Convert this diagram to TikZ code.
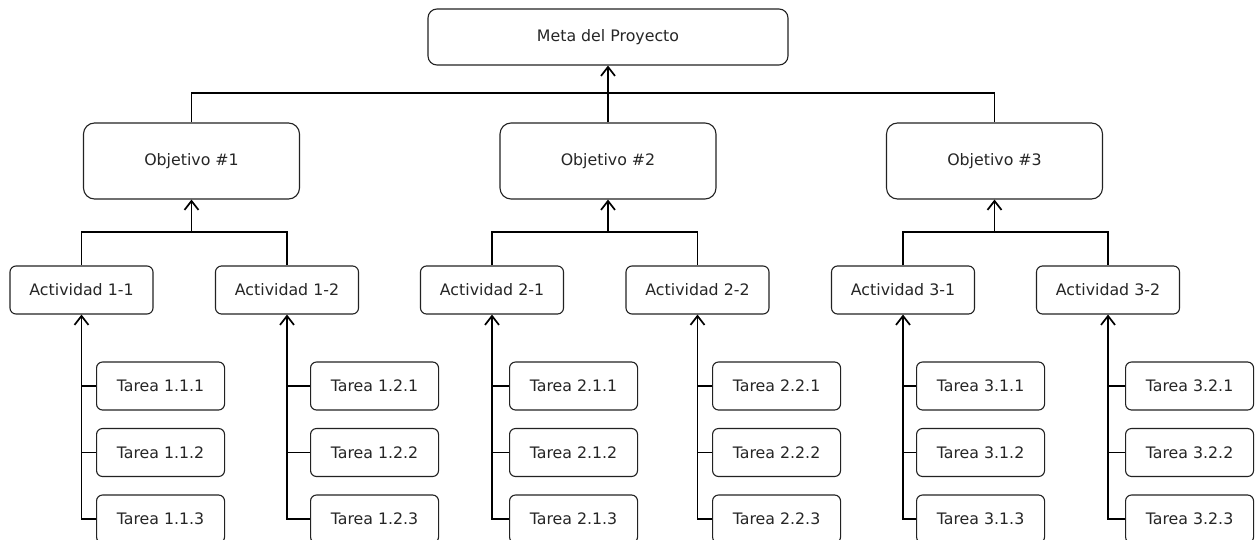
\documentclass[tikz,border=0pt]{standalone}
\usepackage{fontspec}
\setmainfont{DejaVu Sans}
\usetikzlibrary{arrows.meta}
\definecolor{edge}{HTML}{222222}
\definecolor{txt}{HTML}{262626}
\begin{document}
\begin{tikzpicture}[x=1pt,y=-1pt,
  every node/.style={font=\fontsize{15.8}{18}\selectfont, text=txt},
  boxbase/.style={draw=edge, line width=1.1pt, fill=white, inner sep=0pt, align=center},
  metabox/.style={boxbase, minimum width=360pt, minimum height=56pt, rounded corners=9pt},
  objbox/.style={boxbase, minimum width=216pt, minimum height=76pt, rounded corners=11pt},
  actbox/.style={boxbase, minimum width=143pt, minimum height=48pt, rounded corners=6pt},
  taskbox/.style={boxbase, minimum width=128pt, minimum height=48pt, rounded corners=6pt, anchor=west},
  link/.style={draw=black, line width=1.7pt},
  uplink/.style={link, -{Straight Barb[length=9pt,width=14pt,line width=1.7pt]}}
]
\useasboundingbox (0,0) rectangle (1260,540);

% top
\node[metabox] (meta) at (608,37) {Meta del Proyecto};

% objectives
\node[objbox] (o1) at (191.5,161) {Objetivo \#1};
\node[objbox] (o2) at (608,161) {Objetivo \#2};
\node[objbox] (o3) at (994.5,161) {Objetivo \#3};

% activities
\node[actbox] (a11) at (81.5,290) {Actividad 1-1};
\node[actbox] (a12) at (287,290) {Actividad 1-2};
\node[actbox] (a21) at (492,290) {Actividad 2-1};
\node[actbox] (a22) at (697.5,290) {Actividad 2-2};
\node[actbox] (a31) at (903,290) {Actividad 3-1};
\node[actbox] (a32) at (1108,290) {Actividad 3-2};

% tasks
\foreach \g/\h/\xl in {1/1/96,1/2/310,2/1/509,2/2/712,3/1/916,3/2/1125}{
  \node[taskbox] (t\g\h1) at (\xl,386) {Tarea \g.\h.1};
  \node[taskbox] (t\g\h2) at (\xl,452.5) {Tarea \g.\h.2};
  \node[taskbox] (t\g\h3) at (\xl,519) {Tarea \g.\h.3};
}

% objectives -> meta
\coordinate (b0) at (608,93);
\draw[link] (o1.north) |- (b0) -| (o3.north);
\draw[uplink] (o2.north) -- (meta.south);

% activities -> objectives
\foreach \g in {1,2,3}{
  \coordinate (c\g) at (o\g.south |- 0,232);
  \draw[link] (a\g1.north) |- (c\g) -| (a\g2.north);
  \draw[uplink] (c\g) -- (o\g.south);
}

% tasks -> activities
\foreach \g in {1,2,3}{
  \foreach \h in {1,2}{
    \draw[uplink] (t\g\h3.west) -| (a\g\h.south);
    \draw[link] (t\g\h1.west) -- (t\g\h1.west -| a\g\h.south);
    \draw[link] (t\g\h2.west) -- (t\g\h2.west -| a\g\h.south);
  }
}
\end{tikzpicture}
\end{document}
